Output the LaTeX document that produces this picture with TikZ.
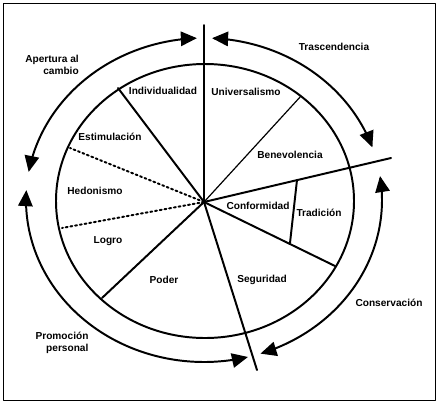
\documentclass[tikz,border=0pt]{standalone}
\usepackage{fontspec}
\setmainfont{Liberation Sans}
\usetikzlibrary{arrows.meta}

\begin{document}
\begin{tikzpicture}[x=0.025cm, y=-0.025cm, line cap=round, line join=round,
  >={Triangle[length=0.4cm, width=0.36cm]},
  lab/.style={font=\bfseries\fontsize{7.2}{8.6}\selectfont, inner sep=0pt},
  rim/.style={line width=1.4pt},
  cut/.style={line width=1.4pt},
  dots/.style={line width=1.4pt, dotted},
  ring/.style={line width=1.4pt, samples=90, smooth}]

  % Page and frame (pixel units, y down)
  \useasboundingbox (0,0) rectangle (440,404);
  \draw[line width=0.7pt] (3,3) rectangle (435,400);

  % Parameters
  \def\cx{204}   % ring center
  \def\cy{200}
  \def\rx{178}   % ring radii
  \def\ry{162}

  % ---- Inner circle ----
  \draw[rim] (205,201) ellipse[x radius=149, y radius=137];

  % ---- Center and spoke ends ----
  \coordinate (o) at (204,202);
  \coordinate (top) at (204,25);
  \coordinate (bot) at (257,370);
  \coordinate (east) at (391,158);
  \coordinate (univ) at (301,96);
  \coordinate (indiv) at (118,88);
  \coordinate (estim) at (70,148);
  \coordinate (hedon) at (62,228);
  \coordinate (logro) at (102,298);
  \coordinate (segur) at (335,266);
  \coordinate (tradA) at (297,180);
  \coordinate (tradB) at (290,243);

  % ---- Spokes ----
  \draw[cut] (o) -- (top);
  \draw[cut] (o) -- (bot);
  \draw[cut] (o) -- (east);
  \draw[line width=0.85pt] (o) -- (univ);
  \draw[cut] (o) -- (indiv);
  \draw[dots] (o) -- (estim);
  \draw[dots] (o) -- (hedon);
  \draw[cut] (o) -- (logro);
  \draw[cut] (o) -- (segur);
  \draw[cut] (tradA) -- (tradB);

  % ---- Outer arrows ----
  \draw[ring, <->] plot[domain=170:92.3] ({\cx+\rx*cos(\x)}, {\cy-\ry*sin(\x)});
  \draw[ring, <->] plot[domain=87.4:19] ({\cx+\rx*cos(\x)}, {\cy-\ry*sin(\x)});
  \draw[ring, <->] plot[domain=8.5:-71.5] ({\cx+\rx*cos(\x)}, {\cy-\ry*sin(\x)});
  \draw[ring, <->] plot[domain=176.5:284.3] ({\cx+\rx*cos(\x)}, {\cy-\ry*sin(\x)});

  % ---- Value labels ----
  \node[lab] (individualidad) at (163,91) {Individualidad};
  \node[lab] (universalismo) at (246,92) {Universalismo};
  \node[lab] (estimulacion) at (110,137) {Estimulación};
  \node[lab] (hedonismo) at (95,191) {Hedonismo};
  \node[lab] (logro) at (108,241) {Logro};
  \node[lab] (poder) at (164,280) {Poder};
  \node[lab] (benevolencia) at (290,155) {Benevolencia};
  \node[lab] (conformidad) at (258,206) {Conformidad};
  \node[lab] (tradicion) at (319,213) {Tradición};
  \node[lab] (seguridad) at (262,280) {Seguridad};

  % ---- Dimension labels ----
  \node[lab] (trascendencia) at (334,47) {Trascendencia};
  \node[lab, align=right] (apertura) at (52,65) {Apertura al\\cambio};
  \node[lab] (conservacion) at (389,303) {Conservación};
  \node[lab, align=right] (promocion) at (62,343) {Promoción\\personal};

\end{tikzpicture}
\end{document}
